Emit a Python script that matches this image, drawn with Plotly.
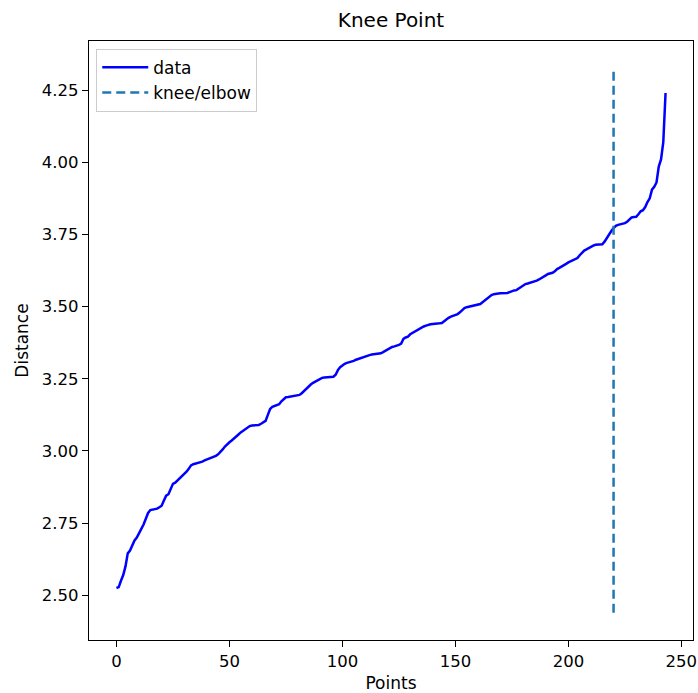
import plotly.graph_objects as go

# Sorted k-distance curve (distance to k-th neighbour, ascending)
distances = [
    2.525, 2.528, 2.550, 2.570, 2.600, 2.645, 2.655, 2.675, 2.690, 2.700,
    2.718, 2.730, 2.745, 2.768, 2.785, 2.795, 2.796, 2.798, 2.800, 2.805,
    2.810, 2.828, 2.845, 2.850, 2.870, 2.886, 2.890, 2.897, 2.905, 2.912,
    2.920, 2.928, 2.938, 2.950, 2.954, 2.956, 2.958, 2.960, 2.963, 2.967,
    2.970, 2.973, 2.976, 2.978, 2.983, 2.988, 2.995, 3.005, 3.015, 3.024,
    3.030, 3.036, 3.044, 3.051, 3.057, 3.064, 3.070, 3.075, 3.080, 3.086,
    3.088, 3.088, 3.088, 3.090, 3.094, 3.099, 3.104, 3.125, 3.145, 3.153,
    3.156, 3.158, 3.162, 3.172, 3.180, 3.186, 3.187, 3.188, 3.189, 3.190,
    3.192, 3.194, 3.200, 3.208, 3.216, 3.224, 3.230, 3.236, 3.241, 3.246,
    3.250, 3.253, 3.254, 3.255, 3.255, 3.255, 3.257, 3.264, 3.280, 3.290,
    3.297, 3.302, 3.305, 3.307, 3.309, 3.312, 3.316, 3.319, 3.322, 3.325,
    3.327, 3.329, 3.332, 3.334, 3.335, 3.335, 3.336, 3.338, 3.342, 3.347,
    3.352, 3.357, 3.360, 3.362, 3.364, 3.367, 3.372, 3.388, 3.393, 3.396,
    3.404, 3.409, 3.413, 3.417, 3.421, 3.426, 3.431, 3.434, 3.437, 3.439,
    3.440, 3.440, 3.441, 3.442, 3.443, 3.450, 3.457, 3.461, 3.465, 3.468,
    3.471, 3.474, 3.480, 3.488, 3.495, 3.498, 3.500, 3.502, 3.503, 3.505,
    3.507, 3.509, 3.515, 3.522, 3.528, 3.534, 3.540, 3.543, 3.545, 3.545,
    3.546, 3.546, 3.546, 3.547, 3.550, 3.554, 3.556, 3.557, 3.562, 3.570,
    3.575, 3.578, 3.580, 3.582, 3.584, 3.586, 3.590, 3.594, 3.598, 3.603,
    3.608, 3.613, 3.615, 3.617, 3.622, 3.630, 3.634, 3.638, 3.643, 3.648,
    3.653, 3.657, 3.661, 3.665, 3.668, 3.678, 3.688, 3.694, 3.698, 3.703,
    3.707, 3.711, 3.714, 3.715, 3.715, 3.716, 3.725, 3.738, 3.748, 3.762,
    3.772, 3.780, 3.783, 3.785, 3.787, 3.789, 3.794, 3.803, 3.809, 3.810,
    3.811, 3.820, 3.830, 3.834, 3.845, 3.862, 3.875, 3.905, 3.915, 3.930,
    3.985, 4.010, 4.070, 4.240,
]
points = list(range(len(distances)))
knee = 220

x_ticks = [0, 50, 100, 150, 200, 250]
y_ticks = [2.50, 2.75, 3.00, 3.25, 3.50, 3.75, 4.00, 4.25]


def padded(lo, hi, frac=0.05):
    span = hi - lo
    return lo - span * frac, hi + span * frac


# knee marker spans the data's padded limits, then the axes pad again
vl_lo, vl_hi = padded(min(distances), max(distances))
y_range = padded(vl_lo, vl_hi)
x_range = padded(min(points), max(points))

fig = go.Figure()
fig.add_trace(go.Scatter(
    x=points, y=distances, mode="lines", name="data",
    line=dict(color="#0000ff", width=2.5),
))
fig.add_trace(go.Scatter(
    x=[knee, knee], y=[vl_lo, vl_hi], mode="lines", name="knee/elbow",
    line=dict(color="#1f77b4", width=2.5, dash="9px,5px"),
))

family = "DejaVu Sans"
tick_font = dict(family=family, size=16.5, color="black")
label_font = dict(family=family, size=17, color="black")
axis_common = dict(
    showline=True, linecolor="black", linewidth=1.3, mirror=True,
    ticks="outside", ticklen=6, tickwidth=1.3, tickcolor="black",
    showgrid=False, zeroline=False, tickfont=tick_font,
    automargin=False,
)

fig.update_layout(
    width=698, height=693,
    margin=dict(l=89, r=5, t=41, b=53),
    paper_bgcolor="white", plot_bgcolor="white",
    font=label_font,
    title=dict(text="Knee Point", x=0.5 + (89 - 5) / 2 / 698, xanchor="center",
               y=1 - 20 / 693, yanchor="middle",
               font=dict(family=family, size=20, color="black")),
    xaxis=dict(axis_common, range=list(x_range), tickvals=x_ticks,
               title=dict(text="Points", font=label_font, standoff=8)),
    yaxis=dict(axis_common, range=list(y_range), tickvals=y_ticks,
               tickformat=".2f",
               title=dict(text="Distance", font=label_font, standoff=8)),
    legend=dict(x=0.012, y=0.987, xanchor="left", yanchor="top",
                bgcolor="white", bordercolor="#cccccc", borderwidth=1,
                font=dict(family=family, size=17, color="black"),
                itemwidth=46, tracegroupgap=0),
    showlegend=True,
)

fig.write_html("out.html")
